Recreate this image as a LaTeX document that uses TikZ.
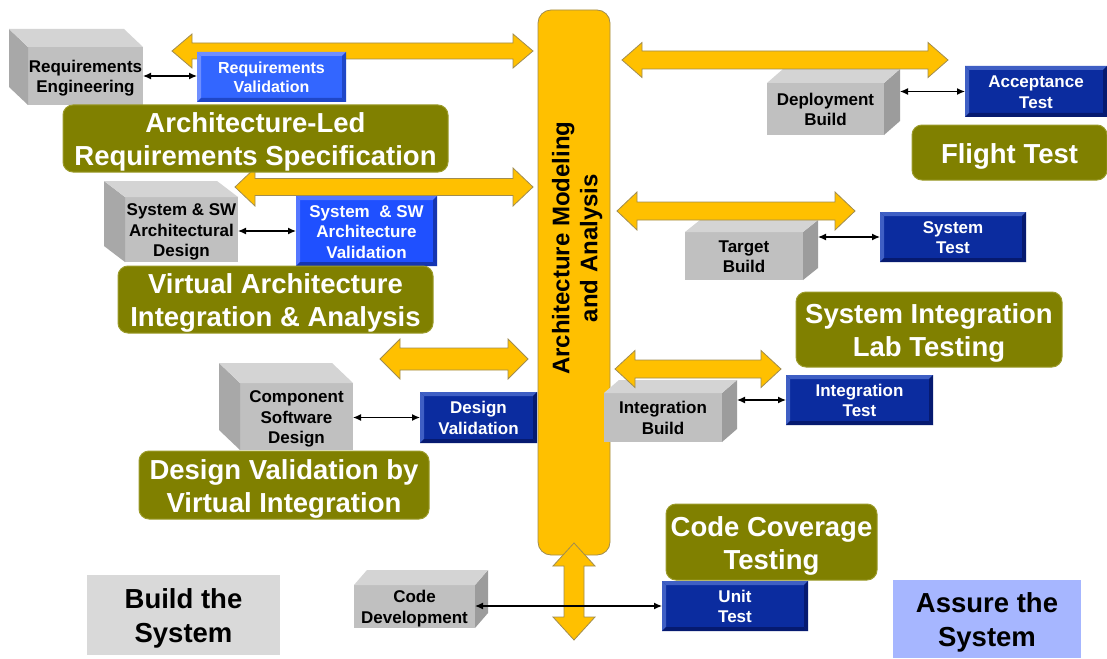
\documentclass[tikz,border=0pt]{standalone}
\usepackage{fontspec}
\setmainfont{Liberation Sans}
\usetikzlibrary{calc,arrows.meta}
\definecolor{orangec}{HTML}{FFC000}
\definecolor{orangeb}{HTML}{A08C50}
\definecolor{olivec}{HTML}{808000}
\definecolor{oliveb}{HTML}{9B9B2B}
\definecolor{cubefront}{HTML}{C0C0C0}
\definecolor{cubetop}{HTML}{D4D4D4}
\definecolor{cubesideL}{HTML}{A8A8A8}
\definecolor{cubesideR}{HTML}{9C9C9C}
\definecolor{bbmain}{HTML}{3366FF}
\definecolor{bblight}{HTML}{6F8FFF}
\definecolor{bbdark}{HTML}{1F47C8}
\definecolor{sbmain}{HTML}{1F50FF}
\definecolor{sblight}{HTML}{5577FF}
\definecolor{sbdark}{HTML}{1535B0}
\definecolor{dbmain}{HTML}{0B2C9F}
\definecolor{dblight}{HTML}{3F5FC4}
\definecolor{dbdark}{HTML}{061A70}
\definecolor{buildc}{HTML}{D9D9D9}
\definecolor{assurec}{HTML}{A6B6FF}
\newcommand\mytop{\rule{0pt}{1.0em}}
\newcommand\mybot{\rule[-0.22em]{0pt}{0.22em}}
\tikzset{
  box/.style={inner sep=0pt, outer sep=0pt, align=center, font=\bfseries\fontsize{17}{20.5}\selectfont},
  graybox/.style={box, fill=cubefront, text=black},
  bevel/.style n args={3}{box, fill=#1, text=white, path picture={
    \fill[#2] (path picture bounding box.north west) -- (path picture bounding box.north east) -- ([shift={(-4pt,-4pt)}]path picture bounding box.north east) -- ([shift={(4pt,-4pt)}]path picture bounding box.north west) -- cycle;
    \fill[#2] (path picture bounding box.north west) -- (path picture bounding box.south west) -- ([shift={(4pt,4pt)}]path picture bounding box.south west) -- ([shift={(4pt,-4pt)}]path picture bounding box.north west) -- cycle;
    \fill[#3] (path picture bounding box.south west) -- (path picture bounding box.south east) -- ([shift={(-4pt,4pt)}]path picture bounding box.south east) -- ([shift={(4pt,4pt)}]path picture bounding box.south west) -- cycle;
    \fill[#3] (path picture bounding box.north east) -- (path picture bounding box.south east) -- ([shift={(-4pt,4pt)}]path picture bounding box.south east) -- ([shift={(-4pt,-4pt)}]path picture bounding box.north east) -- cycle;
  }},
  brightblue/.style={bevel={bbmain}{bblight}{bbdark}},
  sysblue/.style={bevel={sbmain}{sblight}{sbdark}},
  darkblue/.style={bevel={dbmain}{dblight}{dbdark}},
  olivebox/.style={rounded corners=10pt, fill=olivec, draw=oliveb, line width=1pt, text=white, inner sep=0pt, outer sep=0pt, align=center, font=\bfseries\fontsize{27.5}{33}\selectfont},
  labelbox/.style={inner sep=0pt, outer sep=0pt, align=center, text=black, font=\bfseries\fontsize{27.5}{34}\selectfont},
  fatarrow/.style={fill=orangec, draw=orangeb, line width=0.8pt, line join=miter},
  link/.style={{Latex[length=8pt,width=7pt]}-{Latex[length=8pt,width=7pt]}, line width=1.3pt, black},
}
\newcommand\cubeL[3]{%
  \fill[cubesideL] (#1.north west) -- (#1.south west) -- ([shift={(-#2pt,#3pt)}]#1.south west) -- ([shift={(-#2pt,#3pt)}]#1.north west) -- cycle;
  \fill[cubetop] (#1.north west) -- (#1.north east) -- ([shift={(-#2pt,#3pt)}]#1.north east) -- ([shift={(-#2pt,#3pt)}]#1.north west) -- cycle;}
\newcommand\cubeR[3]{%
  \fill[cubesideR] (#1.north east) -- (#1.south east) -- ([shift={(#2pt,#3pt)}]#1.south east) -- ([shift={(#2pt,#3pt)}]#1.north east) -- cycle;
  \fill[cubetop] (#1.north west) -- (#1.north east) -- ([shift={(#2pt,#3pt)}]#1.north east) -- ([shift={(#2pt,#3pt)}]#1.north west) -- cycle;}
\newcommand\fatH[4]{%
  \path[fatarrow] let \p1=(#1), \p2=(#2) in
  (\x1,\y1) -- (\x1+20pt,\y1+#4) -- (\x1+20pt,\y1+#3) -- (\x2-20pt,\y1+#3) -- (\x2-20pt,\y1+#4) -- (\x2,\y1)
  -- (\x2-20pt,\y1-#4) -- (\x2-20pt,\y1-#3) -- (\x1+20pt,\y1-#3) -- (\x1+20pt,\y1-#4) -- cycle;}
\newcommand\fatV[4]{%
  \path[fatarrow] let \p1=(#1), \p2=(#2) in
  (\x1,\y1) -- (\x1+#4,\y1-23pt) -- (\x1+#3,\y1-23pt) -- (\x1+#3,\y2+23pt) -- (\x1+#4,\y2+23pt) -- (\x1,\y2)
  -- (\x1-#4,\y2+23pt) -- (\x1-#3,\y2+23pt) -- (\x1-#3,\y1-23pt) -- (\x1-#4,\y1-23pt) -- cycle;}
\begin{document}
\begin{tikzpicture}[x=1pt,y=-1pt]
\useasboundingbox (0,0) rectangle (1107,658);
\fill[white] (0,0) rectangle (1107,658);

% central bar
\node[rounded corners=13pt, fill=orangec, draw=orangeb, line width=0.8pt, minimum width=72pt, minimum height=545pt, inner sep=0pt, outer sep=0pt] (bar) at (574,282.5) {};
\node[rotate=90, align=center, inner sep=0pt, font=\bfseries\fontsize{24}{28}\selectfont] (bartext) at (574,248) {\mytop Architecture Modeling\\and Analysis\mybot};

% gray 3D boxes
\node[graybox, minimum width=115pt, minimum height=58pt] (reqeng) at (85.5,76) {\mytop Requirements\\Engineering\mybot};
\cubeL{reqeng}{19}{18}
\node[graybox, minimum width=113pt, minimum height=65pt] (sysdes) at (181.5,229.5) {\mytop System \& SW\\Architectural\\Design\mybot};
\cubeL{sysdes}{21}{16}
\node[graybox, minimum width=113pt, minimum height=67pt] (compdes) at (296.5,416.5) {\mytop Component\\Software\\Design\mybot};
\cubeL{compdes}{21}{20}
\node[graybox, minimum width=117pt, minimum height=52pt] (depb) at (825.5,109) {\mytop Deployment\\Build\mybot};
\cubeR{depb}{16}{14}
\node[graybox, minimum width=118pt, minimum height=48pt] (tgtb) at (744,256) {\mytop Target\\Build\mybot};
\cubeR{tgtb}{15}{12}
\node[graybox, minimum width=118pt, minimum height=49pt] (intb) at (663,417.5) {\mytop Integration\\Build\mybot};
\cubeR{intb}{15}{13}
\node[graybox, minimum width=121pt, minimum height=43pt] (codedev) at (414.5,606.5) {\mytop Code\\Development\mybot};
\cubeR{codedev}{13}{15}

% orange double arrows
\coordinate (L1a) at (172,51);
\coordinate (L1b) at ($(bar.west |- L1a)+(-5pt,0pt)$);
\fatH{L1a}{L1b}{8pt}{17pt}
\coordinate (L2a) at (235,187);
\coordinate (L2b) at ($(bar.west |- L2a)+(-5pt,0pt)$);
\fatH{L2a}{L2b}{8.5pt}{19pt}
\coordinate (L3a) at (380,359);
\coordinate (L3b) at ($(bar.west |- L3a)+(-10pt,0pt)$);
\fatH{L3a}{L3b}{11pt}{20pt}
\coordinate (R1b) at (948,60);
\coordinate (R1a) at ($(bar.east |- R1b)+(12pt,0pt)$);
\fatH{R1a}{R1b}{9pt}{17.5pt}
\coordinate (R2b) at (855,211);
\coordinate (R2a) at ($(bar.east |- R2b)+(7pt,0pt)$);
\fatH{R2a}{R2b}{9pt}{19pt}
\coordinate (R3b) at (781,369);
\coordinate (R3a) at ($(bar.east |- R3b)+(5pt,0pt)$);
\fatH{R3a}{R3b}{9pt}{18.5pt}
\coordinate (Vt) at ($(bar.south)+(0pt,12pt)$);
\coordinate (Vb) at (574,640);
\fatV{Vt}{Vb}{10pt}{21pt}

% blue validation / test boxes
\node[brightblue, minimum width=149pt, minimum height=50pt, font=\bfseries\fontsize{16}{19.5}\selectfont] (reqval) at (271.5,77) {\mytop Requirements\\Validation\mybot};
\node[sysblue, minimum width=141pt, minimum height=70pt] (sysval) at (366.5,231) {\mytop System~~\& SW\\Architecture\\Validation\mybot};
\node[darkblue, minimum width=117pt, minimum height=51pt] (desval) at (478.5,417.5) {\mytop Design\\Validation\mybot};
\node[darkblue, minimum width=142pt, minimum height=51pt] (accept) at (1036,91.5) {\mytop Acceptance\\Test\mybot};
\node[darkblue, minimum width=146pt, minimum height=50pt] (systest) at (953,237) {\mytop System\\Test\mybot};
\node[darkblue, minimum width=147pt, minimum height=50pt] (inttest) at (859.5,400) {\mytop Integration\\Test\mybot};
\node[darkblue, minimum width=146pt, minimum height=50pt] (unittest) at (735,606) {\mytop Unit\\Test\mybot};

% olive labels
\node[olivebox, minimum width=385pt, minimum height=67pt] (alrs) at (255.5,138.5) {\mytop Architecture-Led\\Requirements Specification\mybot};
\node[olivebox, minimum width=315pt, minimum height=67pt] (vaia) at (275.5,299.5) {\mytop Virtual Architecture\\Integration \& Analysis\mybot};
\node[olivebox, minimum width=290pt, minimum height=68pt] (dvvi) at (284,485) {\mytop Design Validation by\\Virtual Integration\mybot};
\node[olivebox, minimum width=195pt, minimum height=55pt] (flight) at (1009.5,152.5) {\mytop Flight Test\mybot};
\node[olivebox, minimum width=266pt, minimum height=75pt] (silt) at (929,329.5) {\mytop System Integration\\Lab Testing\mybot};
\node[olivebox, minimum width=211pt, minimum height=76pt] (cct) at (771.5,542) {\mytop Code Coverage\\Testing\mybot};

% bottom labels
\node[labelbox, fill=buildc, minimum width=193pt, minimum height=80pt] (build) at (183.5,615) {\mytop Build the\\System\mybot};
\node[labelbox, fill=assurec, minimum width=188pt, minimum height=78pt] (assure) at (987,619) {\mytop Assure the\\System\mybot};

% black links
\draw[link] (reqeng.east) -- (reqeng.east -| reqval.west);
\draw[link] (sysval.west -| sysdes.east) -- (sysval.west);
\draw[link] (desval.west -| compdes.east) -- (desval.west);
\draw[link] ($(accept.west -| depb.east)+(16pt,0pt)$) -- (accept.west);
\draw[link] ($(systest.west -| tgtb.east)+(15pt,0pt)$) -- (systest.west);
\draw[link] ($(inttest.west -| intb.east)+(15pt,0pt)$) -- (inttest.west);
\draw[link] (unittest.west -| codedev.east) -- (unittest.west);
\end{tikzpicture}
\end{document}
